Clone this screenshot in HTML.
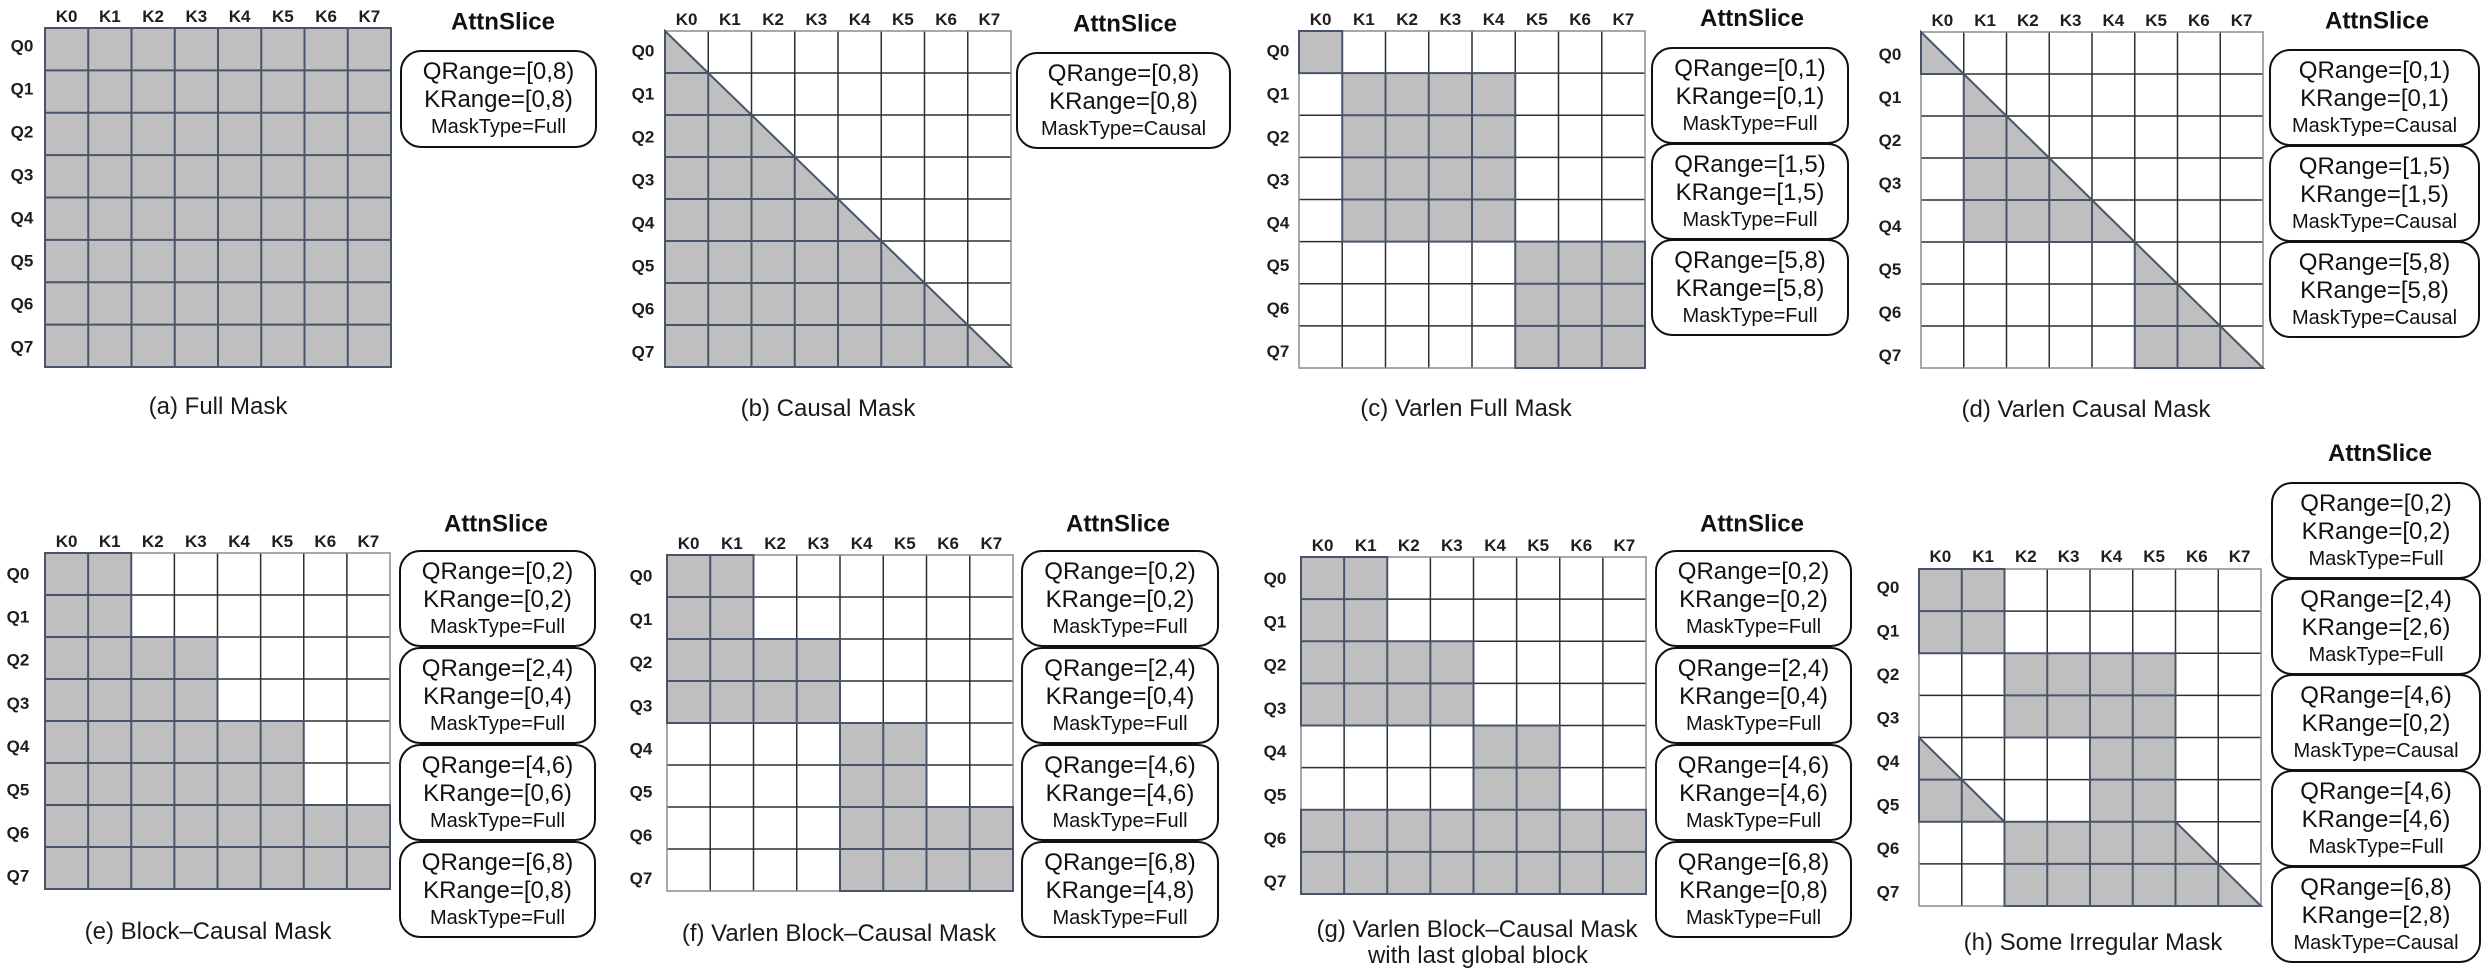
<!DOCTYPE html>
<html><head><meta charset="utf-8"><style>
html,body{margin:0;padding:0;background:#fff;}
svg{display:block;}
.gl{fill:none;stroke:#2e2e2e;stroke-width:1.5;}
.ob{fill:none;stroke:#8c8c8c;stroke-width:1.5;}
.g{fill:#bfbfbf;stroke:#485569;stroke-width:2;}
.s{fill:none;stroke:#485569;stroke-width:2;}
.k{font-family:"Liberation Sans",Arial,sans-serif;font-weight:bold;font-size:17px;fill:#1e1e1e;text-anchor:middle;}
.t{font-family:"Liberation Sans",Arial,sans-serif;font-weight:bold;font-size:24px;fill:#111;text-anchor:middle;}
.b1{font-family:"Liberation Sans",Arial,sans-serif;font-size:24px;fill:#111;text-anchor:middle;}
.b2{font-family:"Liberation Sans",Arial,sans-serif;font-size:20px;fill:#111;text-anchor:middle;}
.c{font-family:"Liberation Sans",Arial,sans-serif;font-size:24px;fill:#1a1a1a;text-anchor:middle;}
.bx{fill:#fff;stroke:#111;stroke-width:2;}
</style></head><body>
<svg width="2487" height="973" viewBox="0 0 2487 973" xmlns="http://www.w3.org/2000/svg">
<defs>
<path id="gl" vector-effect="non-scaling-stroke" d="M1 0V8M2 0V8M3 0V8M4 0V8M5 0V8M6 0V8M7 0V8M0 1H8M0 2H8M0 3H8M0 4H8M0 5H8M0 6H8M0 7H8"/>
</defs>

<!-- (a) -->
<g transform="translate(45 28) scale(43.25 42.375)">
<rect class="g" width="8" height="8" vector-effect="non-scaling-stroke"/>
<use href="#gl" class="s"/>
</g>
<g>
<text class="k" x="66.6" y="22">K0</text><text class="k" x="109.9" y="22">K1</text><text class="k" x="153.1" y="22">K2</text><text class="k" x="196.4" y="22">K3</text><text class="k" x="239.6" y="22">K4</text><text class="k" x="282.9" y="22">K5</text><text class="k" x="326.1" y="22">K6</text><text class="k" x="369.4" y="22">K7</text>
<text class="k" x="22" y="51.7">Q0</text><text class="k" x="22" y="94.7">Q1</text><text class="k" x="22" y="137.7">Q2</text><text class="k" x="22" y="180.7">Q3</text><text class="k" x="22" y="223.7">Q4</text><text class="k" x="22" y="266.7">Q5</text><text class="k" x="22" y="309.7">Q6</text><text class="k" x="22" y="352.7">Q7</text>
<text class="t" x="503" y="29.5">AttnSlice</text>
<rect class="bx" x="401" y="51" width="195" height="96" rx="20"/>
<text class="b1" x="498.5" y="79">QRange=[0,8)</text><text class="b1" x="498.5" y="107">KRange=[0,8)</text><text class="b2" x="498.5" y="133">MaskType=Full</text>
<text class="c" x="218" y="414">(a) Full Mask</text>
</g>

<!-- (b) -->
<g transform="translate(665 31) scale(43.25 42)">
<rect fill="#fff" width="8" height="8"/>
<use href="#gl" class="gl"/>
<rect class="ob" width="8" height="8" vector-effect="non-scaling-stroke"/>
<path class="g" vector-effect="non-scaling-stroke" d="M0 0L8 8H0Z"/>
<path class="s" vector-effect="non-scaling-stroke" d="M0 1H1M0 2H2M0 3H3M0 4H4M0 5H5M0 6H6M0 7H7M1 1V8M2 2V8M3 3V8M4 4V8M5 5V8M6 6V8M7 7V8"/>
</g>
<g>
<text class="k" x="686.6" y="25">K0</text><text class="k" x="729.9" y="25">K1</text><text class="k" x="773.1" y="25">K2</text><text class="k" x="816.4" y="25">K3</text><text class="k" x="859.6" y="25">K4</text><text class="k" x="902.9" y="25">K5</text><text class="k" x="946.1" y="25">K6</text><text class="k" x="989.4" y="25">K7</text>
<text class="k" x="643" y="56.7">Q0</text><text class="k" x="643" y="99.7">Q1</text><text class="k" x="643" y="142.7">Q2</text><text class="k" x="643" y="185.7">Q3</text><text class="k" x="643" y="228.7">Q4</text><text class="k" x="643" y="271.7">Q5</text><text class="k" x="643" y="314.7">Q6</text><text class="k" x="643" y="357.7">Q7</text>
<text class="t" x="1125" y="31.5">AttnSlice</text>
<rect class="bx" x="1017" y="53" width="213" height="95" rx="20"/>
<text class="b1" x="1123.5" y="81">QRange=[0,8)</text><text class="b1" x="1123.5" y="109">KRange=[0,8)</text><text class="b2" x="1123.5" y="135">MaskType=Causal</text>
<text class="c" x="828" y="416">(b) Causal Mask</text>
</g>

<!-- (c) -->
<g transform="translate(1299 31) scale(43.25 42.125)">
<rect fill="#fff" width="8" height="8"/>
<use href="#gl" class="gl"/>
<rect class="ob" width="8" height="8" vector-effect="non-scaling-stroke"/>
<path class="g" vector-effect="non-scaling-stroke" d="M0 0H1V1H0Z M1 1H5V5H1Z M5 5H8V8H5Z"/>
<path class="s" vector-effect="non-scaling-stroke" d="M2 1V5M3 1V5M4 1V5M1 2H5M1 3H5M1 4H5M6 5V8M7 5V8M5 6H8M5 7H8"/>
</g>
<g>
<text class="k" x="1320.6" y="25">K0</text><text class="k" x="1363.9" y="25">K1</text><text class="k" x="1407.1" y="25">K2</text><text class="k" x="1450.4" y="25">K3</text><text class="k" x="1493.6" y="25">K4</text><text class="k" x="1536.9" y="25">K5</text><text class="k" x="1580.1" y="25">K6</text><text class="k" x="1623.4" y="25">K7</text>
<text class="k" x="1278" y="56.7">Q0</text><text class="k" x="1278" y="99.6">Q1</text><text class="k" x="1278" y="142.5">Q2</text><text class="k" x="1278" y="185.4">Q3</text><text class="k" x="1278" y="228.3">Q4</text><text class="k" x="1278" y="271.2">Q5</text><text class="k" x="1278" y="314.1">Q6</text><text class="k" x="1278" y="357">Q7</text>
<text class="t" x="1752" y="26">AttnSlice</text>
<rect class="bx" x="1652" y="48" width="196" height="95" rx="20"/>
<text class="b1" x="1750" y="76">QRange=[0,1)</text><text class="b1" x="1750" y="104">KRange=[0,1)</text><text class="b2" x="1750" y="130">MaskType=Full</text>
<rect class="bx" x="1652" y="144" width="196" height="95" rx="20"/>
<text class="b1" x="1750" y="172">QRange=[1,5)</text><text class="b1" x="1750" y="200">KRange=[1,5)</text><text class="b2" x="1750" y="226">MaskType=Full</text>
<rect class="bx" x="1652" y="240" width="196" height="95" rx="20"/>
<text class="b1" x="1750" y="268">QRange=[5,8)</text><text class="b1" x="1750" y="296">KRange=[5,8)</text><text class="b2" x="1750" y="322">MaskType=Full</text>
<text class="c" x="1466" y="416">(c) Varlen Full Mask</text>
</g>

<!-- (d) -->
<g transform="translate(1921 32) scale(42.75 42)">
<rect fill="#fff" width="8" height="8"/>
<use href="#gl" class="gl"/>
<rect class="ob" width="8" height="8" vector-effect="non-scaling-stroke"/>
<path class="g" vector-effect="non-scaling-stroke" d="M0 0V1H1Z M1 1V5H5Z M5 5V8H8Z"/>
<path class="s" vector-effect="non-scaling-stroke" d="M1 2H2M1 3H3M1 4H4M2 2V5M3 3V5M4 4V5M5 6H6M5 7H7M6 6V8M7 7V8"/>
</g>
<g>
<text class="k" x="1942.4" y="26">K0</text><text class="k" x="1985.1" y="26">K1</text><text class="k" x="2027.9" y="26">K2</text><text class="k" x="2070.6" y="26">K3</text><text class="k" x="2113.4" y="26">K4</text><text class="k" x="2156.1" y="26">K5</text><text class="k" x="2198.9" y="26">K6</text><text class="k" x="2241.6" y="26">K7</text>
<text class="k" x="1890" y="60">Q0</text><text class="k" x="1890" y="103">Q1</text><text class="k" x="1890" y="146">Q2</text><text class="k" x="1890" y="189">Q3</text><text class="k" x="1890" y="232">Q4</text><text class="k" x="1890" y="275">Q5</text><text class="k" x="1890" y="318">Q6</text><text class="k" x="1890" y="361">Q7</text>
<text class="t" x="2377" y="28.5">AttnSlice</text>
<rect class="bx" x="2270" y="50" width="209" height="95" rx="20"/>
<text class="b1" x="2374.5" y="78">QRange=[0,1)</text><text class="b1" x="2374.5" y="106">KRange=[0,1)</text><text class="b2" x="2374.5" y="132">MaskType=Causal</text>
<rect class="bx" x="2270" y="146" width="209" height="95" rx="20"/>
<text class="b1" x="2374.5" y="174">QRange=[1,5)</text><text class="b1" x="2374.5" y="202">KRange=[1,5)</text><text class="b2" x="2374.5" y="228">MaskType=Causal</text>
<rect class="bx" x="2270" y="242" width="209" height="95" rx="20"/>
<text class="b1" x="2374.5" y="270">QRange=[5,8)</text><text class="b1" x="2374.5" y="298">KRange=[5,8)</text><text class="b2" x="2374.5" y="324">MaskType=Causal</text>
<text class="c" x="2086" y="417">(d) Varlen Causal Mask</text>
</g>

<!-- (e) -->
<g transform="translate(45 553) scale(43.125 42)">
<rect fill="#fff" width="8" height="8"/>
<use href="#gl" class="gl"/>
<rect class="ob" width="8" height="8" vector-effect="non-scaling-stroke"/>
<path class="g" vector-effect="non-scaling-stroke" d="M0 0H2V2H4V4H6V6H8V8H0Z"/>
<path class="s" vector-effect="non-scaling-stroke" d="M1 0V8M2 2V8M3 2V8M4 4V8M5 4V8M6 6V8M7 6V8M0 1H2M0 2H2M0 3H4M0 4H4M0 5H6M0 6H6M0 7H8"/>
</g>
<g>
<text class="k" x="66.6" y="547">K0</text><text class="k" x="109.7" y="547">K1</text><text class="k" x="152.8" y="547">K2</text><text class="k" x="195.9" y="547">K3</text><text class="k" x="239.1" y="547">K4</text><text class="k" x="282.2" y="547">K5</text><text class="k" x="325.3" y="547">K6</text><text class="k" x="368.4" y="547">K7</text>
<text class="k" x="18" y="579.3">Q0</text><text class="k" x="18" y="622.5">Q1</text><text class="k" x="18" y="665.7">Q2</text><text class="k" x="18" y="708.9">Q3</text><text class="k" x="18" y="752.1">Q4</text><text class="k" x="18" y="795.3">Q5</text><text class="k" x="18" y="838.5">Q6</text><text class="k" x="18" y="881.7">Q7</text>
<text class="t" x="496" y="531.5">AttnSlice</text>
<rect class="bx" x="400" y="551" width="195" height="95" rx="20"/>
<text class="b1" x="497.5" y="579">QRange=[0,2)</text><text class="b1" x="497.5" y="607">KRange=[0,2)</text><text class="b2" x="497.5" y="633">MaskType=Full</text>
<rect class="bx" x="400" y="648" width="195" height="95" rx="20"/>
<text class="b1" x="497.5" y="676">QRange=[2,4)</text><text class="b1" x="497.5" y="704">KRange=[0,4)</text><text class="b2" x="497.5" y="730">MaskType=Full</text>
<rect class="bx" x="400" y="745" width="195" height="95" rx="20"/>
<text class="b1" x="497.5" y="773">QRange=[4,6)</text><text class="b1" x="497.5" y="801">KRange=[0,6)</text><text class="b2" x="497.5" y="827">MaskType=Full</text>
<rect class="bx" x="400" y="842" width="195" height="95" rx="20"/>
<text class="b1" x="497.5" y="870">QRange=[6,8)</text><text class="b1" x="497.5" y="898">KRange=[0,8)</text><text class="b2" x="497.5" y="924">MaskType=Full</text>
<text class="c" x="208" y="939">(e) Block–Causal Mask</text>
</g>

<!-- (f) -->
<g transform="translate(667 555) scale(43.25 42)">
<rect fill="#fff" width="8" height="8"/>
<use href="#gl" class="gl"/>
<rect class="ob" width="8" height="8" vector-effect="non-scaling-stroke"/>
<path class="g" vector-effect="non-scaling-stroke" d="M0 0H2V2H4V4H0Z M4 4H6V6H8V8H4Z"/>
<path class="s" vector-effect="non-scaling-stroke" d="M1 0V4M2 2V4M3 2V4M0 1H2M0 2H2M0 3H4M5 4V8M6 6V8M7 6V8M4 5H6M4 6H6M4 7H8"/>
</g>
<g>
<text class="k" x="688.6" y="549">K0</text><text class="k" x="731.9" y="549">K1</text><text class="k" x="775.1" y="549">K2</text><text class="k" x="818.4" y="549">K3</text><text class="k" x="861.6" y="549">K4</text><text class="k" x="904.9" y="549">K5</text><text class="k" x="948.1" y="549">K6</text><text class="k" x="991.4" y="549">K7</text>
<text class="k" x="641" y="581.7">Q0</text><text class="k" x="641" y="624.9">Q1</text><text class="k" x="641" y="668.1">Q2</text><text class="k" x="641" y="711.3">Q3</text><text class="k" x="641" y="754.5">Q4</text><text class="k" x="641" y="797.7">Q5</text><text class="k" x="641" y="840.9">Q6</text><text class="k" x="641" y="884.1">Q7</text>
<text class="t" x="1118" y="531.5">AttnSlice</text>
<rect class="bx" x="1022" y="551" width="196" height="95" rx="20"/>
<text class="b1" x="1120" y="579">QRange=[0,2)</text><text class="b1" x="1120" y="607">KRange=[0,2)</text><text class="b2" x="1120" y="633">MaskType=Full</text>
<rect class="bx" x="1022" y="648" width="196" height="95" rx="20"/>
<text class="b1" x="1120" y="676">QRange=[2,4)</text><text class="b1" x="1120" y="704">KRange=[0,4)</text><text class="b2" x="1120" y="730">MaskType=Full</text>
<rect class="bx" x="1022" y="745" width="196" height="95" rx="20"/>
<text class="b1" x="1120" y="773">QRange=[4,6)</text><text class="b1" x="1120" y="801">KRange=[4,6)</text><text class="b2" x="1120" y="827">MaskType=Full</text>
<rect class="bx" x="1022" y="842" width="196" height="95" rx="20"/>
<text class="b1" x="1120" y="870">QRange=[6,8)</text><text class="b1" x="1120" y="898">KRange=[4,8)</text><text class="b2" x="1120" y="924">MaskType=Full</text>
<text class="c" x="839" y="941">(f) Varlen Block–Causal Mask</text>
</g>

<!-- (g) -->
<g transform="translate(1301 557) scale(43.125 42.125)">
<rect fill="#fff" width="8" height="8"/>
<use href="#gl" class="gl"/>
<rect class="ob" width="8" height="8" vector-effect="non-scaling-stroke"/>
<path class="g" vector-effect="non-scaling-stroke" d="M0 0H2V2H4V4H0Z M4 4H6V6H4Z M0 6H8V8H0Z"/>
<path class="s" vector-effect="non-scaling-stroke" d="M1 0V4M2 2V4M3 2V4M0 1H2M0 2H2M0 3H4M5 4V6M4 5H6M1 6V8M2 6V8M3 6V8M4 6V8M5 6V8M6 6V8M7 6V8M0 7H8"/>
</g>
<g>
<text class="k" x="1322.6" y="551">K0</text><text class="k" x="1365.7" y="551">K1</text><text class="k" x="1408.8" y="551">K2</text><text class="k" x="1451.9" y="551">K3</text><text class="k" x="1495.1" y="551">K4</text><text class="k" x="1538.2" y="551">K5</text><text class="k" x="1581.3" y="551">K6</text><text class="k" x="1624.4" y="551">K7</text>
<text class="k" x="1275" y="584">Q0</text><text class="k" x="1275" y="627.3">Q1</text><text class="k" x="1275" y="670.6">Q2</text><text class="k" x="1275" y="713.9">Q3</text><text class="k" x="1275" y="757.2">Q4</text><text class="k" x="1275" y="800.5">Q5</text><text class="k" x="1275" y="843.8">Q6</text><text class="k" x="1275" y="887.1">Q7</text>
<text class="t" x="1752" y="531.5">AttnSlice</text>
<rect class="bx" x="1656" y="551" width="195" height="95" rx="20"/>
<text class="b1" x="1753.5" y="579">QRange=[0,2)</text><text class="b1" x="1753.5" y="607">KRange=[0,2)</text><text class="b2" x="1753.5" y="633">MaskType=Full</text>
<rect class="bx" x="1656" y="648" width="195" height="95" rx="20"/>
<text class="b1" x="1753.5" y="676">QRange=[2,4)</text><text class="b1" x="1753.5" y="704">KRange=[0,4)</text><text class="b2" x="1753.5" y="730">MaskType=Full</text>
<rect class="bx" x="1656" y="745" width="195" height="95" rx="20"/>
<text class="b1" x="1753.5" y="773">QRange=[4,6)</text><text class="b1" x="1753.5" y="801">KRange=[4,6)</text><text class="b2" x="1753.5" y="827">MaskType=Full</text>
<rect class="bx" x="1656" y="842" width="195" height="95" rx="20"/>
<text class="b1" x="1753.5" y="870">QRange=[6,8)</text><text class="b1" x="1753.5" y="898">KRange=[0,8)</text><text class="b2" x="1753.5" y="924">MaskType=Full</text>
<text class="c" x="1477" y="937">(g) Varlen Block–Causal Mask</text>
<text class="c" x="1478" y="963">with last global block</text>
</g>

<!-- (h) -->
<g transform="translate(1919 569) scale(42.75 42.125)">
<rect fill="#fff" width="8" height="8"/>
<use href="#gl" class="gl"/>
<rect class="ob" width="8" height="8" vector-effect="non-scaling-stroke"/>
<path class="g" vector-effect="non-scaling-stroke" d="M0 0H2V2H0Z M2 2H6V6H4V4H2Z M0 4V6H2Z M2 6H6L8 8H2Z"/>
<path class="s" vector-effect="non-scaling-stroke" d="M1 0V2M0 1H2M3 2V4M4 2V4M5 2V6M2 3H6M4 4H6M4 5H6M0 5H1M1 5V6M2 7H7M3 6V8M4 6V8M5 6V8M6 6V8M7 7V8"/>
</g>
<g>
<text class="k" x="1940.4" y="562">K0</text><text class="k" x="1983.1" y="562">K1</text><text class="k" x="2025.9" y="562">K2</text><text class="k" x="2068.6" y="562">K3</text><text class="k" x="2111.4" y="562">K4</text><text class="k" x="2154.1" y="562">K5</text><text class="k" x="2196.9" y="562">K6</text><text class="k" x="2239.6" y="562">K7</text>
<text class="k" x="1888" y="592.9">Q0</text><text class="k" x="1888" y="636.4">Q1</text><text class="k" x="1888" y="679.9">Q2</text><text class="k" x="1888" y="723.4">Q3</text><text class="k" x="1888" y="766.9">Q4</text><text class="k" x="1888" y="810.4">Q5</text><text class="k" x="1888" y="853.9">Q6</text><text class="k" x="1888" y="897.3">Q7</text>
<text class="t" x="2380" y="461">AttnSlice</text>
<rect class="bx" x="2272" y="483" width="208" height="95" rx="20"/>
<text class="b1" x="2376" y="511">QRange=[0,2)</text><text class="b1" x="2376" y="539">KRange=[0,2)</text><text class="b2" x="2376" y="565">MaskType=Full</text>
<rect class="bx" x="2272" y="579" width="208" height="95" rx="20"/>
<text class="b1" x="2376" y="607">QRange=[2,4)</text><text class="b1" x="2376" y="635">KRange=[2,6)</text><text class="b2" x="2376" y="661">MaskType=Full</text>
<rect class="bx" x="2272" y="675" width="208" height="95" rx="20"/>
<text class="b1" x="2376" y="703">QRange=[4,6)</text><text class="b1" x="2376" y="731">KRange=[0,2)</text><text class="b2" x="2376" y="757">MaskType=Causal</text>
<rect class="bx" x="2272" y="771" width="208" height="95" rx="20"/>
<text class="b1" x="2376" y="799">QRange=[4,6)</text><text class="b1" x="2376" y="827">KRange=[4,6)</text><text class="b2" x="2376" y="853">MaskType=Full</text>
<rect class="bx" x="2272" y="867" width="208" height="95" rx="20"/>
<text class="b1" x="2376" y="895">QRange=[6,8)</text><text class="b1" x="2376" y="923">KRange=[2,8)</text><text class="b2" x="2376" y="949">MaskType=Causal</text>
<text class="c" x="2093" y="950">(h) Some Irregular Mask</text>
</g>
</svg>
</body></html>
